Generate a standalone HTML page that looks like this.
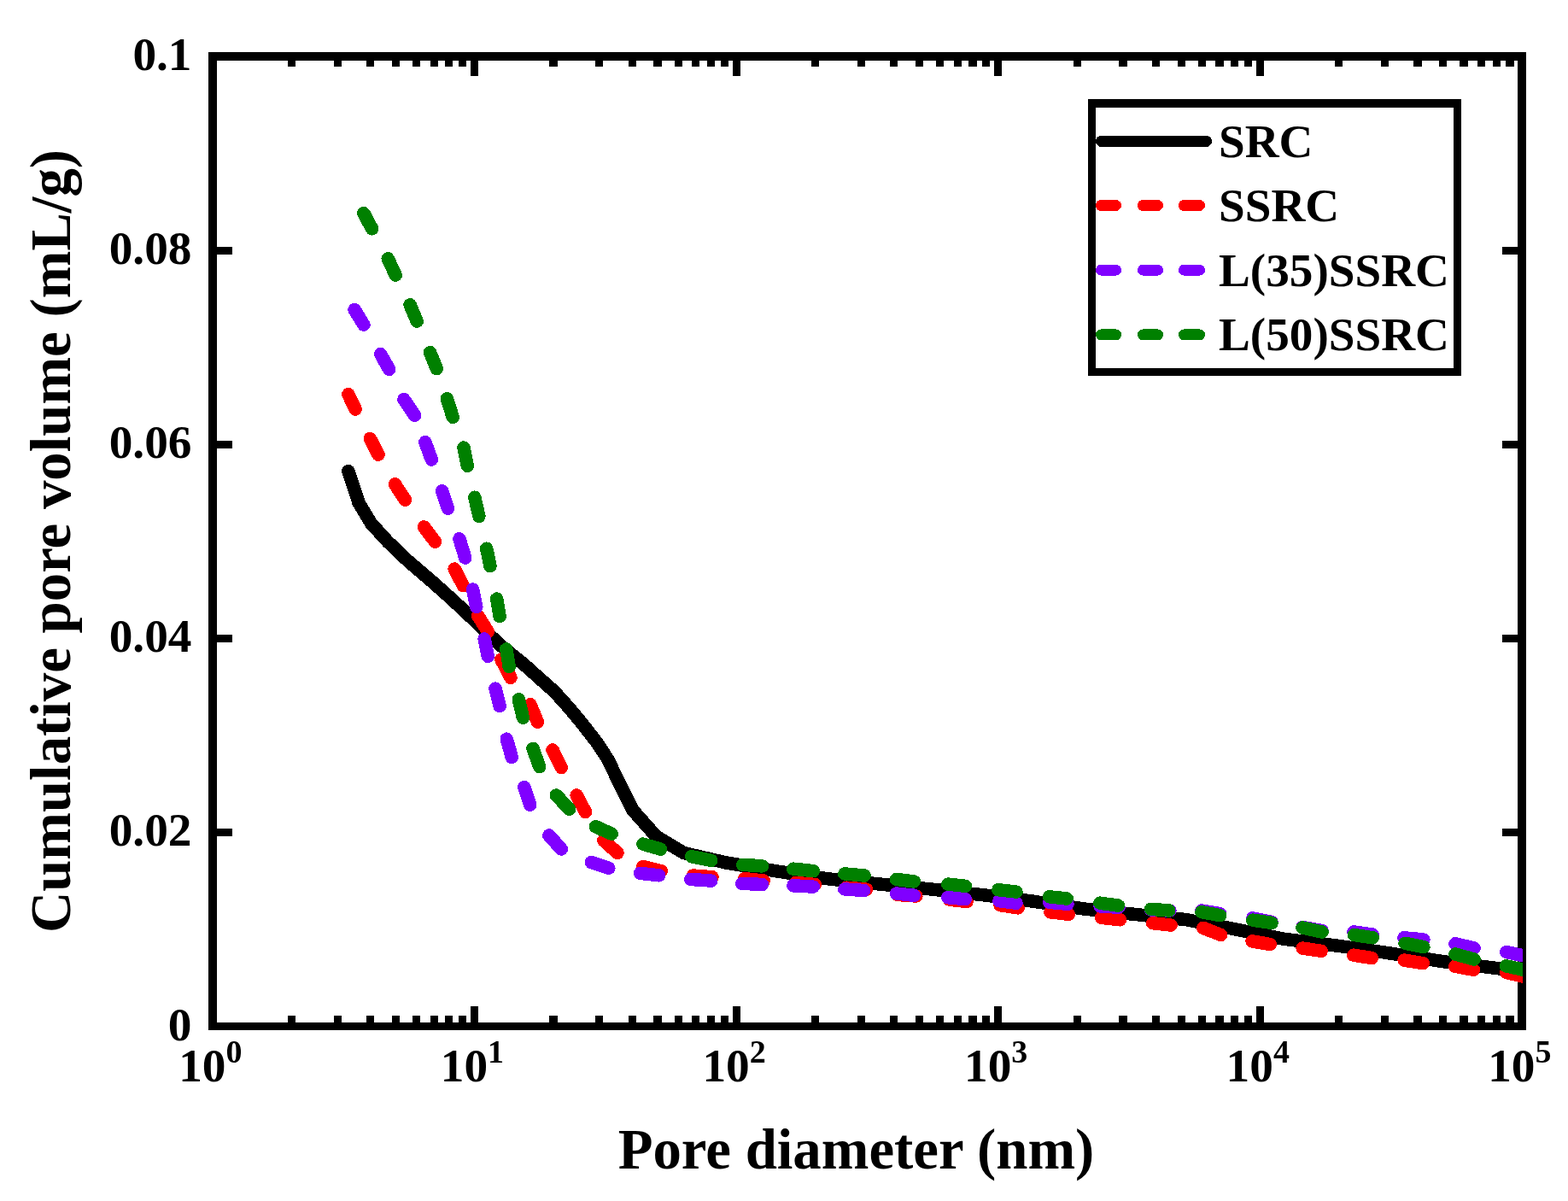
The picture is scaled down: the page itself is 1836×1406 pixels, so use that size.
<!DOCTYPE html>
<html><head><meta charset="utf-8"><title>Cumulative pore volume</title>
<style>html,body{margin:0;padding:0;background:#fff;}svg{display:block;}</style></head>
<body><svg width="1836" height="1406" viewBox="0 0 1836 1406" shape-rendering="crispEdges">
<rect x="0" y="0" width="1836" height="1406" fill="#fff"/>
<rect x="244.00" y="61.00" width="1543.00" height="10.00" fill="#000"/>
<rect x="244.00" y="1197.00" width="1543.00" height="9.00" fill="#000"/>
<rect x="244.00" y="61.00" width="10.00" height="1145.00" fill="#000"/>
<rect x="1777.00" y="61.00" width="10.00" height="1145.00" fill="#000"/>
<rect x="336.70" y="1189.00" width="9.20" height="8.00" fill="#000"/>
<rect x="336.70" y="71.00" width="9.20" height="7.00" fill="#000"/>
<rect x="390.69" y="1189.00" width="9.20" height="8.00" fill="#000"/>
<rect x="390.69" y="71.00" width="9.20" height="7.00" fill="#000"/>
<rect x="428.99" y="1189.00" width="9.20" height="8.00" fill="#000"/>
<rect x="428.99" y="71.00" width="9.20" height="7.00" fill="#000"/>
<rect x="458.70" y="1189.00" width="9.20" height="8.00" fill="#000"/>
<rect x="458.70" y="71.00" width="9.20" height="7.00" fill="#000"/>
<rect x="482.98" y="1189.00" width="9.20" height="8.00" fill="#000"/>
<rect x="482.98" y="71.00" width="9.20" height="7.00" fill="#000"/>
<rect x="503.51" y="1189.00" width="9.20" height="8.00" fill="#000"/>
<rect x="503.51" y="71.00" width="9.20" height="7.00" fill="#000"/>
<rect x="521.29" y="1189.00" width="9.20" height="8.00" fill="#000"/>
<rect x="521.29" y="71.00" width="9.20" height="7.00" fill="#000"/>
<rect x="536.97" y="1189.00" width="9.20" height="8.00" fill="#000"/>
<rect x="536.97" y="71.00" width="9.20" height="7.00" fill="#000"/>
<rect x="551.00" y="1178.00" width="9.20" height="19.00" fill="#000"/>
<rect x="551.00" y="71.00" width="9.20" height="18.00" fill="#000"/>
<rect x="643.30" y="1189.00" width="9.20" height="8.00" fill="#000"/>
<rect x="643.30" y="71.00" width="9.20" height="7.00" fill="#000"/>
<rect x="697.29" y="1189.00" width="9.20" height="8.00" fill="#000"/>
<rect x="697.29" y="71.00" width="9.20" height="7.00" fill="#000"/>
<rect x="735.59" y="1189.00" width="9.20" height="8.00" fill="#000"/>
<rect x="735.59" y="71.00" width="9.20" height="7.00" fill="#000"/>
<rect x="765.30" y="1189.00" width="9.20" height="8.00" fill="#000"/>
<rect x="765.30" y="71.00" width="9.20" height="7.00" fill="#000"/>
<rect x="789.58" y="1189.00" width="9.20" height="8.00" fill="#000"/>
<rect x="789.58" y="71.00" width="9.20" height="7.00" fill="#000"/>
<rect x="810.11" y="1189.00" width="9.20" height="8.00" fill="#000"/>
<rect x="810.11" y="71.00" width="9.20" height="7.00" fill="#000"/>
<rect x="827.89" y="1189.00" width="9.20" height="8.00" fill="#000"/>
<rect x="827.89" y="71.00" width="9.20" height="7.00" fill="#000"/>
<rect x="843.57" y="1189.00" width="9.20" height="8.00" fill="#000"/>
<rect x="843.57" y="71.00" width="9.20" height="7.00" fill="#000"/>
<rect x="857.60" y="1178.00" width="9.20" height="19.00" fill="#000"/>
<rect x="857.60" y="71.00" width="9.20" height="18.00" fill="#000"/>
<rect x="949.90" y="1189.00" width="9.20" height="8.00" fill="#000"/>
<rect x="949.90" y="71.00" width="9.20" height="7.00" fill="#000"/>
<rect x="1003.89" y="1189.00" width="9.20" height="8.00" fill="#000"/>
<rect x="1003.89" y="71.00" width="9.20" height="7.00" fill="#000"/>
<rect x="1042.19" y="1189.00" width="9.20" height="8.00" fill="#000"/>
<rect x="1042.19" y="71.00" width="9.20" height="7.00" fill="#000"/>
<rect x="1071.90" y="1189.00" width="9.20" height="8.00" fill="#000"/>
<rect x="1071.90" y="71.00" width="9.20" height="7.00" fill="#000"/>
<rect x="1096.18" y="1189.00" width="9.20" height="8.00" fill="#000"/>
<rect x="1096.18" y="71.00" width="9.20" height="7.00" fill="#000"/>
<rect x="1116.71" y="1189.00" width="9.20" height="8.00" fill="#000"/>
<rect x="1116.71" y="71.00" width="9.20" height="7.00" fill="#000"/>
<rect x="1134.49" y="1189.00" width="9.20" height="8.00" fill="#000"/>
<rect x="1134.49" y="71.00" width="9.20" height="7.00" fill="#000"/>
<rect x="1150.17" y="1189.00" width="9.20" height="8.00" fill="#000"/>
<rect x="1150.17" y="71.00" width="9.20" height="7.00" fill="#000"/>
<rect x="1164.20" y="1178.00" width="9.20" height="19.00" fill="#000"/>
<rect x="1164.20" y="71.00" width="9.20" height="18.00" fill="#000"/>
<rect x="1256.50" y="1189.00" width="9.20" height="8.00" fill="#000"/>
<rect x="1256.50" y="71.00" width="9.20" height="7.00" fill="#000"/>
<rect x="1310.49" y="1189.00" width="9.20" height="8.00" fill="#000"/>
<rect x="1310.49" y="71.00" width="9.20" height="7.00" fill="#000"/>
<rect x="1348.79" y="1189.00" width="9.20" height="8.00" fill="#000"/>
<rect x="1348.79" y="71.00" width="9.20" height="7.00" fill="#000"/>
<rect x="1378.50" y="1189.00" width="9.20" height="8.00" fill="#000"/>
<rect x="1378.50" y="71.00" width="9.20" height="7.00" fill="#000"/>
<rect x="1402.78" y="1189.00" width="9.20" height="8.00" fill="#000"/>
<rect x="1402.78" y="71.00" width="9.20" height="7.00" fill="#000"/>
<rect x="1423.31" y="1189.00" width="9.20" height="8.00" fill="#000"/>
<rect x="1423.31" y="71.00" width="9.20" height="7.00" fill="#000"/>
<rect x="1441.09" y="1189.00" width="9.20" height="8.00" fill="#000"/>
<rect x="1441.09" y="71.00" width="9.20" height="7.00" fill="#000"/>
<rect x="1456.77" y="1189.00" width="9.20" height="8.00" fill="#000"/>
<rect x="1456.77" y="71.00" width="9.20" height="7.00" fill="#000"/>
<rect x="1470.80" y="1178.00" width="9.20" height="19.00" fill="#000"/>
<rect x="1470.80" y="71.00" width="9.20" height="18.00" fill="#000"/>
<rect x="1563.10" y="1189.00" width="9.20" height="8.00" fill="#000"/>
<rect x="1563.10" y="71.00" width="9.20" height="7.00" fill="#000"/>
<rect x="1617.09" y="1189.00" width="9.20" height="8.00" fill="#000"/>
<rect x="1617.09" y="71.00" width="9.20" height="7.00" fill="#000"/>
<rect x="1655.39" y="1189.00" width="9.20" height="8.00" fill="#000"/>
<rect x="1655.39" y="71.00" width="9.20" height="7.00" fill="#000"/>
<rect x="1685.10" y="1189.00" width="9.20" height="8.00" fill="#000"/>
<rect x="1685.10" y="71.00" width="9.20" height="7.00" fill="#000"/>
<rect x="1709.38" y="1189.00" width="9.20" height="8.00" fill="#000"/>
<rect x="1709.38" y="71.00" width="9.20" height="7.00" fill="#000"/>
<rect x="1729.91" y="1189.00" width="9.20" height="8.00" fill="#000"/>
<rect x="1729.91" y="71.00" width="9.20" height="7.00" fill="#000"/>
<rect x="1747.69" y="1189.00" width="9.20" height="8.00" fill="#000"/>
<rect x="1747.69" y="71.00" width="9.20" height="7.00" fill="#000"/>
<rect x="1763.37" y="1189.00" width="9.20" height="8.00" fill="#000"/>
<rect x="1763.37" y="71.00" width="9.20" height="7.00" fill="#000"/>
<rect x="254.00" y="970.00" width="18.00" height="8.80" fill="#000"/>
<rect x="1759.00" y="970.00" width="18.00" height="8.80" fill="#000"/>
<rect x="254.00" y="742.90" width="18.00" height="8.80" fill="#000"/>
<rect x="1759.00" y="742.90" width="18.00" height="8.80" fill="#000"/>
<rect x="254.00" y="515.80" width="18.00" height="8.80" fill="#000"/>
<rect x="1759.00" y="515.80" width="18.00" height="8.80" fill="#000"/>
<rect x="254.00" y="288.70" width="18.00" height="8.80" fill="#000"/>
<rect x="1759.00" y="288.70" width="18.00" height="8.80" fill="#000"/>
<clipPath id="c"><rect x="0" y="0" width="1783" height="1406"/></clipPath>
<g clip-path="url(#c)" shape-rendering="crispEdges" stroke-linecap="round" stroke-linejoin="round" fill="none">
<polyline stroke="#000" stroke-width="15.5" points="407.7,551.5 413.8,569.1 420.0,588.5 434.3,612.4 453.9,634.0 478.4,657.3 502.8,678.1 528.4,700.9 556.9,727.6 585.3,754.9 613.8,778.1 649.4,809.9 667.3,829.8 683.8,849.8 699.2,869.7 712.2,889.6 721.6,909.5 731.6,929.4 741.0,948.4 768.4,979.3 800.7,998.5 849.9,1009.9 911.3,1020.2 970.2,1028.9 1029.8,1035.0 1090.4,1041.0 1150.0,1047.6 1208.9,1055.1 1268.8,1063.9 1328.4,1070.4 1388.9,1076.6 1448.8,1088.4 1501.0,1098.9 1565.6,1107.1 1624.4,1115.5 1685.8,1125.1 1744.2,1132.5 1782.8,1137.4"/>
<path stroke="#ff0000" stroke-width="15.5" d="M407.9 461.7L416.1 479.1M433.3 513.5L443.0 532.2M462.5 566.9L474.4 585.2M496.4 616.9L509.5 634.2M532.2 666.1L542.4 685.7M559.5 720.7L571.4 739.5M586.8 771.9L597.9 793.3M621.0 824.8L629.5 845.3M647.1 878.0L657.3 898.5M675.2 931.0L685.5 950.6M706.8 983.9L723.0 998.4M752.9 1014.6L774.2 1019.7M811.5 1025.0L834.0 1026.7M871.6 1028.6L894.3 1031.1M931.6 1033.5L954.4 1035.5M991.2 1039.2L1014.4 1041.2M1050.9 1047.4L1072.8 1049.0M1111.4 1053.1L1132.0 1055.6M1171.0 1059.6L1192.1 1062.9M1229.9 1067.8L1251.3 1070.3M1289.5 1074.3L1311.4 1076.8M1349.7 1080.7L1371.1 1083.1M1408.9 1086.4L1429.6 1094.5M1466.1 1101.9L1487.2 1105.5M1525.1 1110.1L1547.1 1113.3M1584.7 1118.2L1606.4 1121.5M1644.1 1124.1L1666.3 1127.7M1703.8 1131.3L1725.4 1135.3M1763.6 1138.5L1782.9 1142.9"/>
<path stroke="#8000ff" stroke-width="15.5" d="M415.1 362.5L425.9 380.2M445.6 414.5L455.7 432.4M472.9 467.6L485.6 486.3M497.9 517.7L505.3 538.0M517.7 574.8L524.5 595.1M537.9 630.8L544.7 653.0M553.5 690.0L557.8 710.5M567.2 748.0L571.4 768.5M580.0 806.1L585.1 826.6M593.3 865.2L599.3 886.6M613.8 921.6L620.6 942.1M642.8 977.9L657.3 994.1M692.3 1009.5L712.8 1016.3M749.5 1022.3L771.7 1024.8M808.7 1029.4L832.7 1031.1M868.7 1034.3L892.4 1035.5M928.8 1036.8L952.3 1038.1M988.8 1040.9L1011.6 1042.5M1049.5 1046.1L1070.2 1048.2M1109.8 1050.7L1130.4 1052.6M1169.9 1054.7L1190.0 1057.2M1228.7 1056.3L1250.0 1058.3M1288.0 1060.9L1310.0 1062.2M1347.6 1065.0L1370.0 1066.0M1406.9 1066.0L1428.7 1069.7M1466.8 1074.9L1489.0 1079.5M1525.0 1085.5L1548.0 1089.5M1585.0 1090.9L1607.0 1094.0M1644.0 1097.8L1667.0 1100.0M1704.0 1104.8L1726.0 1110.0M1763.7 1114.5L1782.8 1118.7"/>
<path stroke="#008000" stroke-width="15.5" d="M425.9 249.7L435.6 267.8M454.2 302.8L463.2 322.0M480.1 356.8L488.2 376.1M503.6 412.6L511.3 431.7M523.4 466.9L530.2 488.3M543.0 524.1L547.3 545.5M555.8 582.2L560.9 604.4M569.7 642.2L574.0 662.7M581.7 701.1L585.1 721.6M592.8 760.0L596.2 780.5M607.3 818.9L612.4 840.2M624.0 876.3L631.7 897.7M651.3 931.0L666.7 947.2M697.4 967.7L716.2 976.2M752.9 988.1L773.4 994.1M809.8 1002.8L832.7 1007.4M869.8 1012.3L892.4 1013.9M928.8 1017.2L952.3 1019.6M988.8 1022.9L1012.1 1025.0M1049.5 1029.4L1070.2 1031.9M1109.8 1035.1L1130.4 1037.3M1168.9 1041.7L1190.0 1044.1M1228.7 1049.8L1249.2 1052.0M1287.9 1057.2L1309.3 1060.1M1347.6 1064.3L1368.7 1065.9M1406.9 1067.6L1428.7 1071.7M1466.8 1077.2L1489.0 1080.4M1525.0 1086.0L1548.0 1091.0M1585.5 1094.5L1607.3 1097.8M1645.1 1104.3L1666.9 1108.5M1704.0 1117.0L1726.0 1123.0M1763.6 1130.9L1782.9 1135.2"/>
</g>
<g font-family="Liberation Serif, Times New Roman, serif" font-weight="bold" fill="#000">
<text x="224.5" y="1217.5" font-size="55.3" text-anchor="end">0</text>
<text x="224.5" y="990.4" font-size="55.3" text-anchor="end">0.02</text>
<text x="224.5" y="763.3" font-size="55.3" text-anchor="end">0.04</text>
<text x="224.5" y="536.2" font-size="55.3" text-anchor="end">0.06</text>
<text x="224.5" y="309.1" font-size="55.3" text-anchor="end">0.08</text>
<text x="224.5" y="82.0" font-size="55.3" text-anchor="end">0.1</text>
<text x="209.2" y="1265.8" font-size="55.3">10<tspan font-size="38" dy="-22">0</tspan></text>
<text x="515.8" y="1265.8" font-size="55.3">10<tspan font-size="38" dy="-22">1</tspan></text>
<text x="822.4" y="1265.8" font-size="55.3">10<tspan font-size="38" dy="-22">2</tspan></text>
<text x="1129.0" y="1265.8" font-size="55.3">10<tspan font-size="38" dy="-22">3</tspan></text>
<text x="1435.6" y="1265.8" font-size="55.3">10<tspan font-size="38" dy="-22">4</tspan></text>
<text x="1742.2" y="1265.8" font-size="55.3">10<tspan font-size="38" dy="-22">5</tspan></text>
<text x="1002.5" y="1368" font-size="66.8" text-anchor="middle">Pore diameter (nm)</text>
<text transform="translate(81.5,633.5) rotate(-90)" x="0" y="0" font-size="66.8" text-anchor="middle">Cumulative pore volume (mL/g)</text>
</g>
<rect x="1274.00" y="116.00" width="437.00" height="10.00" fill="#000"/>
<rect x="1274.00" y="430.50" width="437.00" height="9.50" fill="#000"/>
<rect x="1274.00" y="116.00" width="9.00" height="324.00" fill="#000"/>
<rect x="1701.50" y="116.00" width="9.50" height="324.00" fill="#000"/>
<g stroke-linecap="round" fill="none" stroke-width="13">
<line x1="1289.5" y1="165.4" x2="1412.5" y2="165.4" stroke="#000"/>
<path stroke="#ff0000" d="M1289.5 240.5L1306.5 240.5M1338.5 240.5L1355.5 240.5M1386.5 240.5L1404.5 240.5"/>
<path stroke="#8000ff" d="M1289.5 316.2L1306.5 316.2M1338.5 316.2L1355.5 316.2M1386.5 316.2L1404.5 316.2"/>
<path stroke="#008000" d="M1289.5 391.9L1306.5 391.9M1338.5 391.9L1355.5 391.9M1386.5 391.9L1404.5 391.9"/>
</g>
<g font-family="Liberation Serif, Times New Roman, serif" font-weight="bold" fill="#000" font-size="55.2">
<text x="1427" y="183.9">SRC</text>
<text x="1427" y="259.0">SSRC</text>
<text x="1427" y="334.7">L(35)SSRC</text>
<text x="1427" y="410.4">L(50)SSRC</text>
</g>
</svg></body></html>
